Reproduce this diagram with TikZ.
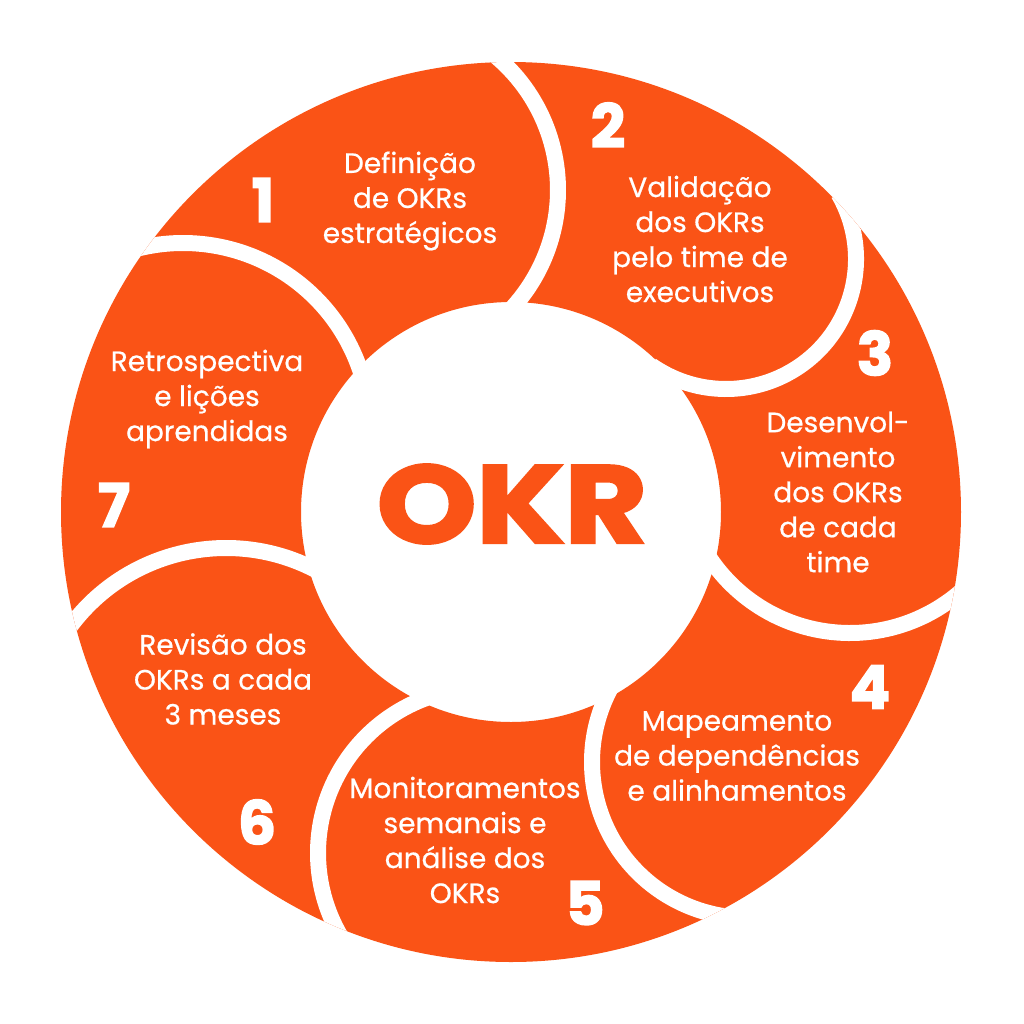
\documentclass[tikz,border=0pt]{standalone}
\usepackage{fontspec}
\usepackage{graphicx}
\setmainfont{Poppins}[UprightFeatures={FakeBold=0.6}]
\newfontfamily\heavyfont{Poppins}[BoldFeatures={FakeBold=2.5}]
\definecolor{okrorange}{RGB}{250,83,22}
\begin{document}
\begin{tikzpicture}[x=0.5pt,y=-0.5pt,
  gap/.style={white, line width=8pt},
  steplabel/.style={text=white, align=center, font=\fontsize{14}{17.5}\selectfont, inner sep=0pt},
  stepnum/.style={text=white, font=\heavyfont\fontsize{30}{30}\selectfont\bfseries, inner sep=0pt},
  title/.style={text=okrorange, font=\heavyfont\fontsize{55}{55}\selectfont\bfseries, inner sep=0pt}
]
\useasboundingbox[fill=white] (0,0) rectangle (1024,1024);
\coordinate (O) at (511,512);
% ring
\fill[okrorange, even odd rule] (O) circle[radius=450] (O) circle[radius=210];
% curved white gaps between the segments
\begin{scope}
\clip (O) circle[radius=450];
\coordinate (c12) at (383,190);
\coordinate (c23) at (726,259);
\coordinate (c34) at (850,464);
\coordinate (c45) at (748,762);
\coordinate (c56) at (483,853);
\coordinate (c67) at (226,742);
\coordinate (c71) at (183,430);
\draw[gap] (c12) ++(-55:175) arc[start angle=-55, end angle=50, radius=175];
\draw[gap] (c23) ++(-30:130) arc[start angle=-30, end angle=125, radius=130];
\draw[gap] (c34) ++(40:169) arc[start angle=40, end angle=155, radius=169];
\draw[gap] (c45) ++(95:156) arc[start angle=95, end angle=210, radius=156];
\draw[gap] (c56) ++(150:165) arc[start angle=150, end angle=250, radius=165];
\draw[gap] (c67) ++(-145:194) arc[start angle=-145, end angle=-60, radius=194];
\draw[gap] (c71) ++(-105:187) arc[start angle=-105, end angle=-10, radius=187];
\end{scope}
% centre
\node[title] (okr) at (512,504) {\scalebox{1.15}[1]{OKR}};
% step texts
\node[steplabel] (t1) at (410,201) {Definição\\de OKRs\\estratégicos};
\node[steplabel] (t2) at (700,239) {Validação\\dos OKRs\\pelo time de\\executivos};
\node[steplabel] (t3) at (838,492) {Desenvol-\\vimento\\dos OKRs\\de cada\\time};
\node[steplabel] (t4) at (737,756) {Mapeamento\\de dependências\\e alinhamentos};
\node[steplabel] (t5) at (465,840) {Monitoramentos\\semanais e\\análise dos\\OKRs};
\node[steplabel] (t6) at (223,679) {Revisão dos\\OKRs a cada\\3 meses};
\node[steplabel] (t7) at (207,399) {Retrospectiva\\e lições\\aprendidas};
% step numbers
\node[stepnum] (n1) at (263,200) {1};
\node[stepnum] (n2) at (608,125) {2};
\node[stepnum] (n3) at (875,353) {3};
\node[stepnum] (n4) at (870,687) {4};
\node[stepnum] (n5) at (585,903) {5};
\node[stepnum] (n6) at (257,822) {6};
\node[stepnum] (n7) at (114,505) {7};
\end{tikzpicture}
\end{document}
